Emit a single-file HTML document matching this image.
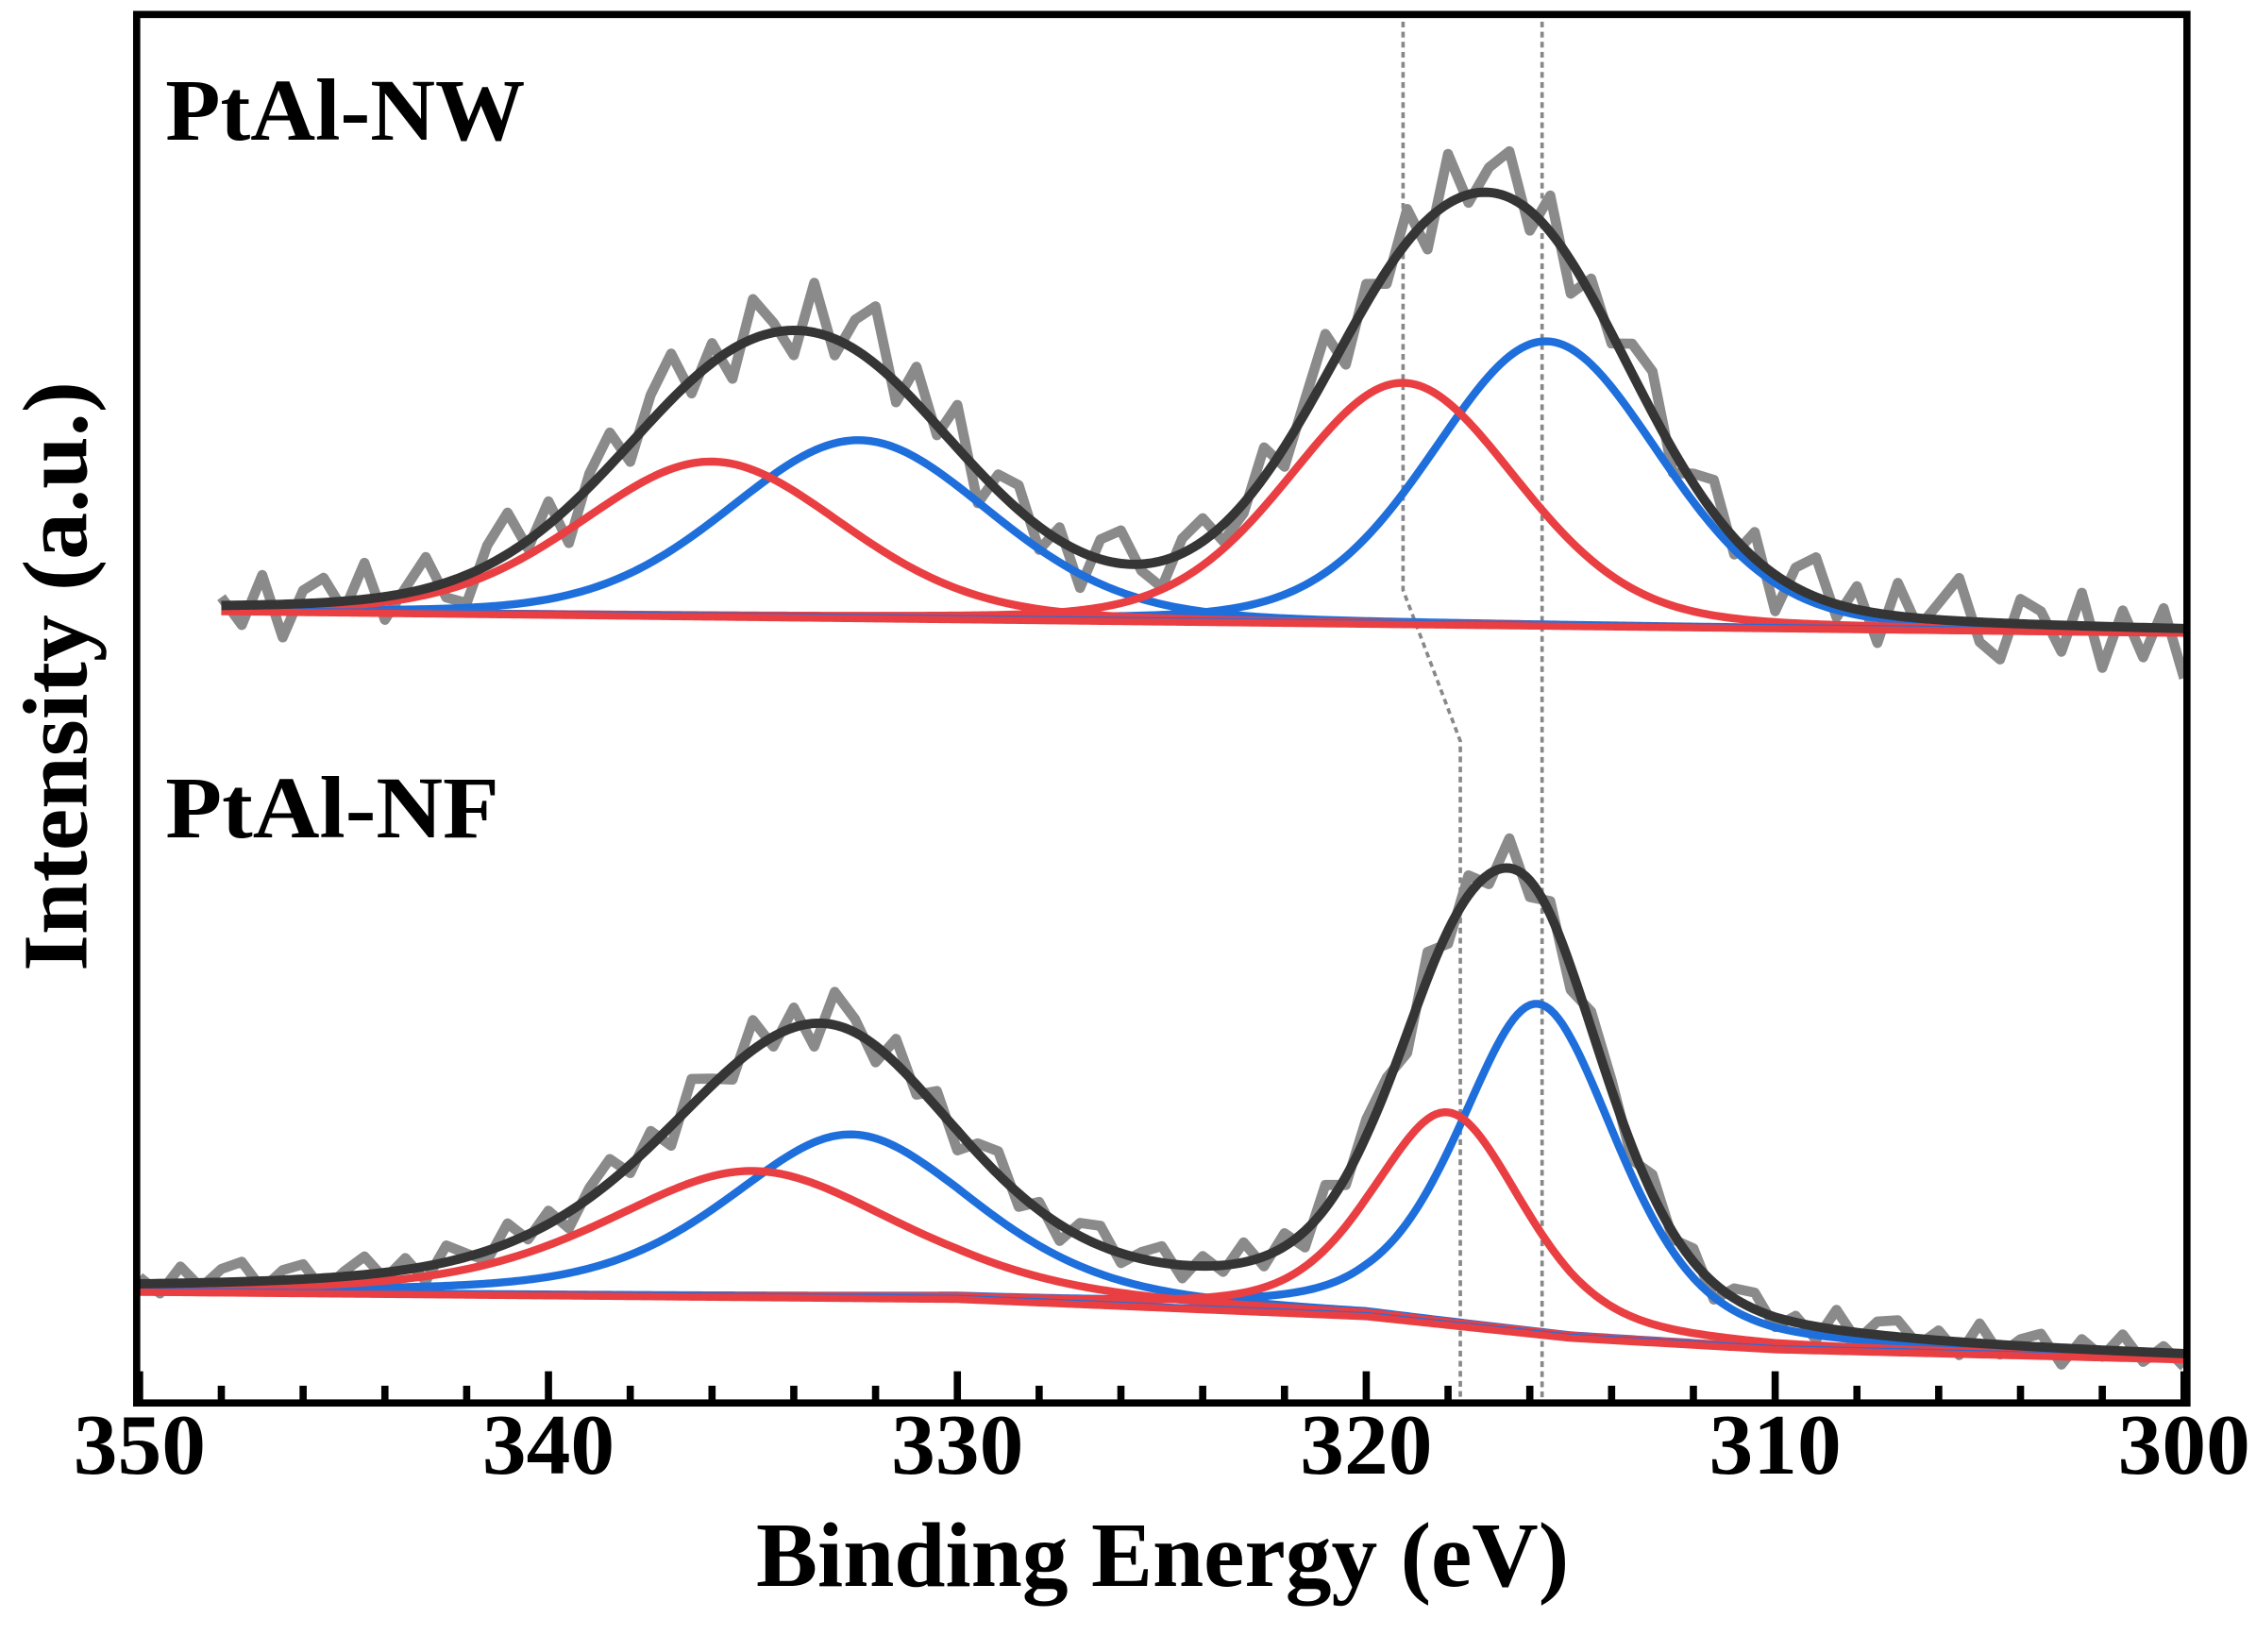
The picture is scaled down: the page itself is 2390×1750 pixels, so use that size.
<!DOCTYPE html>
<html><head><meta charset="utf-8"><style>
html,body{margin:0;padding:0;background:#fff;}
svg{display:block;}
text{font-family:"Liberation Serif",serif;font-weight:bold;fill:#000;}
</style></head><body>
<svg id="chart" width="2390" height="1750" viewBox="0 0 1568 1148" xmlns="http://www.w3.org/2000/svg">
<g id="plot"></g>
<rect x="95" y="10" width="1425" height="965" fill="none" stroke="#000" stroke-width="5"/>
<g id="ticks"></g>
<text x="115" y="97" font-size="61" textLength="250" lengthAdjust="spacingAndGlyphs">PtAl-NW</text>
<text x="115" y="582" font-size="61" textLength="232" lengthAdjust="spacingAndGlyphs">PtAl-NF</text>
<text x="808" y="1102" font-size="64" text-anchor="middle" textLength="565" lengthAdjust="spacingAndGlyphs">Binding Energy (eV)</text>
<text transform="translate(60,470) rotate(-90)" font-size="64" text-anchor="middle" textLength="410" lengthAdjust="spacingAndGlyphs">Intensity (a.u.)</text>
</svg>
<script>
// ---- data ----
const xTicks = [350, 340, 330, 320, 310, 300];
const xMinorTicks = [348,346,344,342,338,336,334,332,328,326,324,322,318,316,314,312,308,306,304,302];
// Top panel (PtAl-NW)
const nwRange = [348, 300];
const nwBaseE = [348, 300];
const nwBaseI = [20, 5];
const nwRedCenters = [336.0, 319.1];
const nwRedHeights = [108, 168];
const nwBlueCenters = [332.4, 315.6];
const nwBlueHeights = [124, 198];
const nwFwhm = [7.6, 6.6];
const nwResidual = [5,-12,18,-20,8,15,-6,22,-14,3,19,-9,-17,12,25,-5,14,-22,8,20,-11,16,28,-8,12,-18,24,6,-15,30,-10,18,35,-12,22,-6,26,-20,10,15,-14,8,-22,12,20,-4,-16,9,14,-10,-6,18,-12,8,26,-15,12,-8,20,-18,30,-5,15,28,-12,22,-20,10,-6,18,25,-14,6,20,-10,16,-22,12,24,-8,14,-18,20,-6,10,26,-12,-22,15,8,-16,20,-25,10,-18,12,-30];
// Bottom panel (PtAl-NF)
const nfRange = [350, 300];
const nfBaseE = [350, 330, 320, 315, 310, 300];
const nfBaseI = [52, 47, 35, 20, 12, 5];
const nfRedCenters = [335.0, 318.0];
const nfRedHeights = [88, 148];
const nfBlueCenters = [332.6, 315.8];
const nfBlueHeights = [114, 230];
const nfRedFwhm = [8.5, 4.4];
const nfBlueFwhm = [7.2, 4.6];
const nfResidual = [4,-6,10,-3,8,12,-5,6,9,-8,3,11,-4,7,-9,10,2,-6,12,-3,8,-10,6,14,-5,9,-12,16,4,-8,18,-6,12,-14,20,8,-10,15,-6,10,-12,6,14,-8,5,-10,8,12,-6,4,10,-8,6,-4,12,-6,8,-10,14,-5,10,6,-12,16,-8,12,-6,18,-10,8,-14,10,6,-8,12,-4,8,-10,6,10,-6,4,-8,12,-5,8,10,-4,6,-8,12,-6,4,8,-10,6,-4,10,-6,4,-8];
const vDash1E = [315.7];
const vDash2E = [319.1, 319.1, 317.7, 317.7];
const vDash2Y = [15, 410, 515, 972];

// ---- scales ----
const X0 = 97, PX = (1518 - 97) / 50;
function x(e){ return X0 + (350 - e) * PX; }
const NS = 'http://www.w3.org/2000/svg';
const plot = document.getElementById('plot');
const tg = document.getElementById('ticks');
function interp(E, es, is){
  for (let i=0;i<es.length-1;i++){ if (E<=es[i] && E>=es[i+1]){ const t=(es[i]-E)/(es[i]-es[i+1]); return is[i]+t*(is[i+1]-is[i]); } }
  return E>es[0]?is[0]:is[is.length-1];
}
function pv(E,c,A,f,eta){ const d=(E-c)*(E-c)/(f*f); return A*((1-eta)*Math.exp(-4*Math.LN2*d)+eta/(1+4*d)); }
function pathFrom(es, fn, Y0){ let s=''; es.forEach((e,i)=>{ s+=(i?'L':'M')+x(e).toFixed(2)+','+(Y0-fn(e)).toFixed(2); }); return s; }
function addPath(d, color, w, name, parent){
  const p=document.createElementNS(NS,'path');
  p.setAttribute('d',d); p.setAttribute('fill','none'); p.setAttribute('stroke',color);
  p.setAttribute('stroke-width',w); p.setAttribute('stroke-linejoin','round');
  
  
  (parent||plot).appendChild(p); return p;
}
function grid(a,b){ const es=[]; for(let e=a;e>=b-1e-9;e-=0.1) es.push(e); return es; }

(function(){
  addPath('M'+x(vDash1E[0])+',15L'+x(vDash1E[0])+',972','#888',2.4,'reference-line-315-7').setAttribute('stroke-dasharray','4,3');
  let d=''; vDash2E.forEach((e,i)=>{ d+=(i?'L':'M')+x(e)+','+vDash2Y[i]; });
  addPath(d,'#888',2.4,'reference-line-shift').setAttribute('stroke-dasharray','4,3');
})();

function drawPanel(range, baseE, baseI, rc, rh, rf, bc, bh, bf, eta, res, Y0, tag){
  const es = grid(range[0], range[1]);
  const base = e=>interp(e, baseE, baseI);
  const red = (e,i)=>base(e)+pv(e,rc[i],rh[i],rf[i],eta);
  const blue = (e,i)=>base(e)+pv(e,bc[i],bh[i],bf[i],eta);
  const total = e=>{ let s=base(e); for(let i=0;i<rc.length;i++) s+=pv(e,rc[i],rh[i],rf[i],eta)+pv(e,bc[i],bh[i],bf[i],eta); return s; };
  const step=(range[0]-range[1])/(res.length-1);
  let d=''; res.forEach((r,i)=>{ const e=range[0]-i*step; const yy=Y0-(total(e)+r*1.15); d+=(i?'L':'M')+x(e).toFixed(2)+','+yy.toFixed(2); });
  addPath(d,'#8a8a8a',7,tag+'-raw-data');
  addPath(pathFrom(es,e=>blue(e,0),Y0),'#1e6fdc',5.5,tag+'-blue-peak-1');
  addPath(pathFrom(es,e=>blue(e,1),Y0),'#1e6fdc',5.5,tag+'-blue-peak-2');
  addPath(pathFrom(es,e=>red(e,0),Y0),'#ea3f42',5.5,tag+'-red-peak-1');
  addPath(pathFrom(es,e=>red(e,1),Y0),'#ea3f42',5.5,tag+'-red-peak-2');
  addPath(pathFrom(es,e=>base(e)+1.5,Y0),'#1e6fdc',3.5,tag+'-baseline-blue');
  addPath(pathFrom(es,base,Y0),'#ea3f42',5,tag+'-baseline-red');
  addPath(pathFrom(es,total,Y0),'#353535',6.5,tag+'-envelope-fit');
}
drawPanel(nwRange,nwBaseE,nwBaseI,nwRedCenters,nwRedHeights,nwFwhm,nwBlueCenters,nwBlueHeights,nwFwhm,0.2,nwResidual,445,'nw');
drawPanel(nfRange,nfBaseE,nfBaseI,nfRedCenters,nfRedHeights,nfRedFwhm,nfBlueCenters,nfBlueHeights,nfBlueFwhm,0.45,nfResidual,950,'nf');

xTicks.forEach(v=>{
  const l=document.createElementNS(NS,'line');
  l.setAttribute('x1',x(v)); l.setAttribute('x2',x(v)); l.setAttribute('y1',975); l.setAttribute('y2',953);
  l.setAttribute('stroke','#000'); l.setAttribute('stroke-width',5);
  
  
  tg.appendChild(l);
  const t=document.createElementNS(NS,'text');
  t.setAttribute('x',x(v)); t.setAttribute('y',1024); t.setAttribute('font-size',60); t.setAttribute('text-anchor','middle');
  t.setAttribute('textLength',92); t.setAttribute('lengthAdjust','spacingAndGlyphs');
  t.textContent=v;
  
  
  tg.appendChild(t);
});
xMinorTicks.forEach(v=>{
  const l=document.createElementNS(NS,'line');
  l.setAttribute('x1',x(v)); l.setAttribute('x2',x(v)); l.setAttribute('y1',975); l.setAttribute('y2',963);
  l.setAttribute('stroke','#000'); l.setAttribute('stroke-width',5);
  
  
  tg.appendChild(l);
});
</script>
</body></html>
